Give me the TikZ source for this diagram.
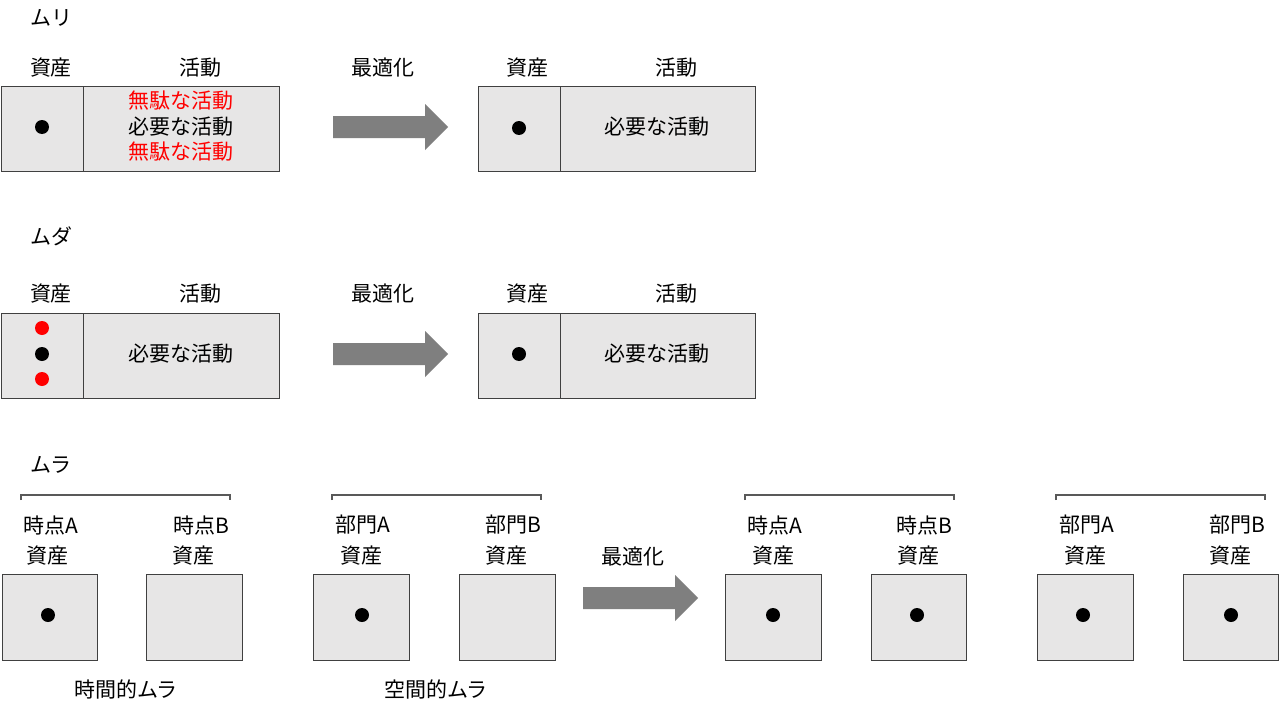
\documentclass[tikz,border=0pt]{standalone}
\usepackage{fontspec}
\setmainfont{Noto Sans CJK JP}
\definecolor{boxfill}{HTML}{E7E6E6}
\definecolor{boxline}{HTML}{404040}
\definecolor{arrowgray}{HTML}{7F7F7F}
\definecolor{brkgray}{HTML}{595959}
\definecolor{wred}{HTML}{FF0000}
\begin{document}
\begin{tikzpicture}[x=1pt,y=-1pt,
  lbl/.style={font=\fontsize{21}{25}\selectfont, inner sep=0pt, anchor=center},
  cell/.style={draw=boxline, fill=boxfill, line width=1.2pt, inner sep=0pt, anchor=north west},
  dotmark/.style={circle, fill=black, minimum size=14pt, inner sep=0pt},
  reddot/.style={dotmark, fill=wred},
  brk/.style={draw=brkgray, line width=1.2pt},
  bigarrow/.pic={\fill[arrowgray] (0,-11) -- (92,-11) -- (92,-23) -- (115,0) -- (92,23) -- (92,11) -- (0,11) -- cycle;}]
\useasboundingbox[fill=white] (0,0) rectangle (1280,717);

% ---------- Row 1: ムリ ----------
\node[lbl, anchor=west] (t1) at (30,18) {ムリ};
\node[lbl] (r1la) at (51,68) {資産};
\node[lbl] (r1lb) at (200,68) {活動};
\node[cell, minimum width=82pt, minimum height=85pt] (r1a) at (1,86) {};
\node[cell, minimum width=196pt, minimum height=85pt] (r1b) at (83,86) {};
\node[dotmark] (r1d) at (42,127) {};
\node[lbl, text=wred] (r1t1) at (181,101) {無駄な活動};
\node[lbl] (r1t2) at (181,127) {必要な活動};
\node[lbl, text=wred] (r1t3) at (181,152) {無駄な活動};
\node[lbl] (r1o) at (383,68) {最適化};
\pic at (333,127) {bigarrow};
\node[lbl] (r1ra) at (527,68) {資産};
\node[lbl] (r1rb) at (676,68) {活動};
\node[cell, minimum width=82pt, minimum height=85pt] (r1c) at (478,86) {};
\node[cell, minimum width=195pt, minimum height=85pt] (r1e) at (560,86) {};
\node[dotmark] (r1d2) at (519,128) {};
\node[lbl] (r1t4) at (657,127) {必要な活動};

% ---------- Row 2: ムダ ----------
\node[lbl, anchor=west] (t2) at (30,236) {ムダ};
\node[lbl] (r2la) at (51,294) {資産};
\node[lbl] (r2lb) at (200,294) {活動};
\node[cell, minimum width=82pt, minimum height=85pt] (r2a) at (1,313) {};
\node[cell, minimum width=196pt, minimum height=85pt] (r2b) at (83,313) {};
\node[reddot] (r2d1) at (42,328) {};
\node[dotmark] (r2d2) at (42,354) {};
\node[reddot] (r2d3) at (42,379) {};
\node[lbl] (r2t1) at (181,354) {必要な活動};
\node[lbl] (r2o) at (383,294) {最適化};
\pic at (333,354) {bigarrow};
\node[lbl] (r2ra) at (527,294) {資産};
\node[lbl] (r2rb) at (676,294) {活動};
\node[cell, minimum width=82pt, minimum height=85pt] (r2c) at (478,313) {};
\node[cell, minimum width=195pt, minimum height=85pt] (r2e) at (560,313) {};
\node[dotmark] (r2d4) at (519,354) {};
\node[lbl] (r2t2) at (657,354) {必要な活動};

% ---------- Row 3: ムラ ----------
\node[lbl, anchor=west] (t3) at (30,465) {ムラ};
% brackets
\draw[brk] (21,500) -- (21,495) -- (230,495) -- (230,500);
\draw[brk] (332,500) -- (332,495) -- (541,495) -- (541,500);
\draw[brk] (745,500) -- (745,495) -- (954,495) -- (954,500);
\draw[brk] (1056,500) -- (1056,495) -- (1265,495) -- (1265,500);
% headers
\node[lbl] (h1) at (51,525) {時点A};
\node[lbl] (h1b) at (48,556) {資産};
\node[lbl] (h2) at (201,525) {時点B};
\node[lbl] (h2b) at (193,556) {資産};
\node[lbl] (h3) at (363,525) {部門A};
\node[lbl] (h3b) at (361,556) {資産};
\node[lbl] (h4) at (513,525) {部門B};
\node[lbl] (h4b) at (506,556) {資産};
\node[lbl] (h5) at (775,525) {時点A};
\node[lbl] (h5b) at (773,556) {資産};
\node[lbl] (h6) at (924,525) {時点B};
\node[lbl] (h6b) at (918,556) {資産};
\node[lbl] (h7) at (1087,525) {部門A};
\node[lbl] (h7b) at (1085,556) {資産};
\node[lbl] (h8) at (1237,525) {部門B};
\node[lbl] (h8b) at (1230,556) {資産};
% boxes
\node[cell, minimum width=95pt, minimum height=86pt] (b1) at (2,574) {};
\node[cell, minimum width=96pt, minimum height=86pt] (b2) at (146,574) {};
\node[cell, minimum width=96pt, minimum height=86pt] (b3) at (313,574) {};
\node[cell, minimum width=96pt, minimum height=86pt] (b4) at (459,574) {};
\node[cell, minimum width=96pt, minimum height=86pt] (b5) at (725,574) {};
\node[cell, minimum width=95pt, minimum height=86pt] (b6) at (871,574) {};
\node[cell, minimum width=96pt, minimum height=86pt] (b7) at (1037,574) {};
\node[cell, minimum width=95pt, minimum height=86pt] (b8) at (1183,574) {};
% dots
\node[dotmark] (d1) at (48,615) {};
\node[dotmark] (d3) at (362,615) {};
\node[dotmark] (d5) at (773,615) {};
\node[dotmark] (d6) at (917,615) {};
\node[dotmark] (d7) at (1083,615) {};
\node[dotmark] (d8) at (1231,615) {};
% captions
\node[lbl] (c1) at (126,689) {時間的ムラ};
\node[lbl] (c2) at (436,689) {空間的ムラ};
% optimisation
\node[lbl] (r3o) at (633,557) {最適化};
\pic at (583,598) {bigarrow};
\end{tikzpicture}
\end{document}
